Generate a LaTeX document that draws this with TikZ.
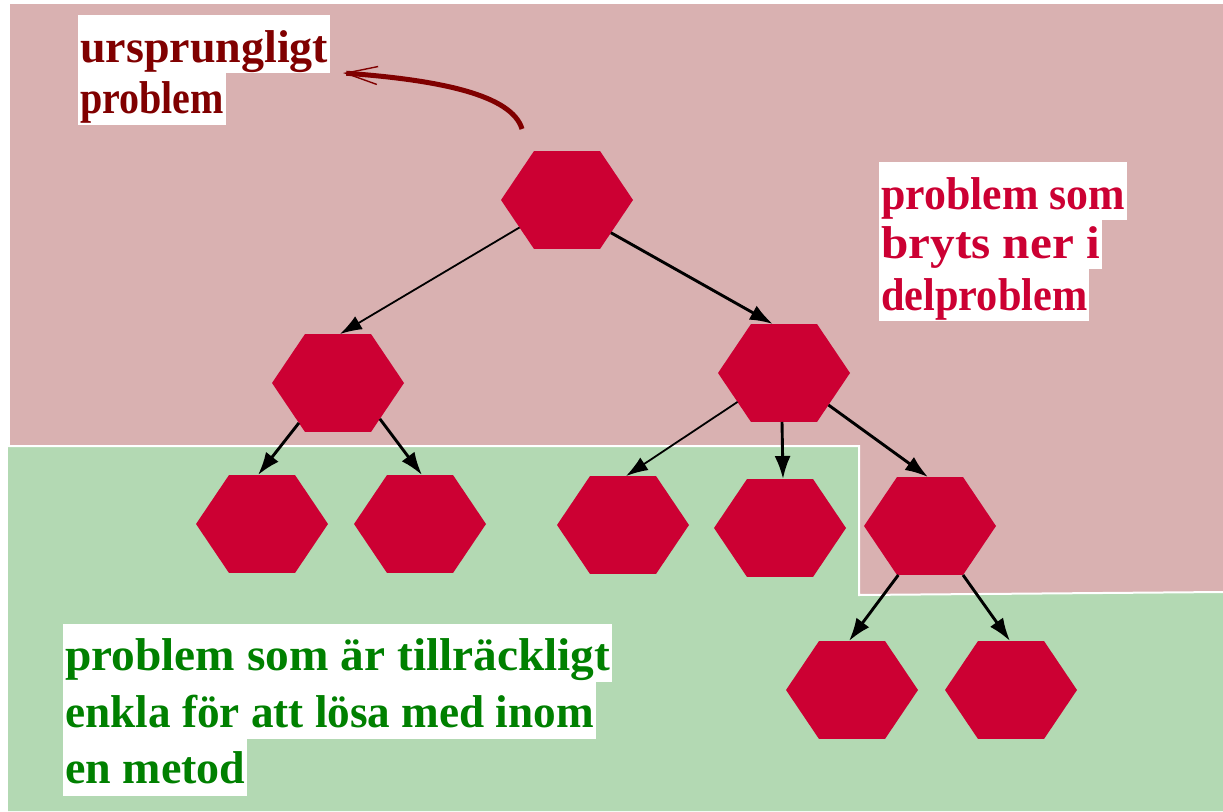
\documentclass[tikz,border=0pt]{standalone}
\usepackage{fontspec}
\usepackage{graphicx}
\setmainfont{Liberation Serif}
\usetikzlibrary{shapes.geometric,arrows.meta}
\definecolor{pinkbg}{HTML}{D9B1B1}
\definecolor{greenbg}{HTML}{B3D9B3}
\definecolor{hexred}{HTML}{CC0033}
\definecolor{darkred}{HTML}{800000}
\definecolor{darkgreen}{HTML}{008000}
\tikzset{
  hexnode/.style={regular polygon, regular polygon sides=6, minimum size=132pt,
    inner sep=0pt, outer sep=0pt, fill=hexred, draw=none, transform shape},
  lab/.style={fill=white, inner xsep=2pt, inner ysep=0pt, anchor=base west,
    font=\bfseries\fontsize{46pt}{50pt}\selectfont},
  arr/.style={line width=2.9pt, -{Latex[length=23pt,width=16pt]}},
  thinarr/.style={line width=1.8pt, -{Latex[length=22pt,width=15pt]}},
  curvy/.style={draw=darkred, line width=5pt,
    -{Straight Barb[length=32pt,width=18pt,line width=1.4pt]}}
}
\newcommand\hexat[3]{\begin{scope}[shift={(#2,#3)},yscale=0.857]\node[hexnode] (#1) at (0,0) {};\end{scope}}
\newcommand\sx[2]{\scalebox{#1}[1]{#2}}
\begin{document}
\begin{tikzpicture}[x=1pt,y=-1pt]
\useasboundingbox (0,0) rectangle (1223,811);
\fill[white] (0,0) rectangle (1223,811);
% regions
\fill[pinkbg] (10,4) -- (1223,4) -- (1223,592) -- (859,595) -- (859,446) -- (10,446) -- cycle;
\fill[greenbg] (8,446) -- (859,446) -- (859,595) -- (1223,592) -- (1223,811) -- (8,811) -- cycle;
\draw[white, line width=2pt] (8,446) -- (859,446) -- (859,595) -- (1223,592);
% hexagons
\hexat{root}{567}{200}
\hexat{L1}{338}{383}
\hexat{R1}{784}{373}
\hexat{LL}{262}{524}
\hexat{LR}{420}{524}
\hexat{RL}{623}{525}
\hexat{RM}{780}{528}
\hexat{RR}{930}{526}
\hexat{RRL}{852}{690}
\hexat{RRR}{1011}{690}
% connectors
\draw[thinarr] (root.-146.7) -- (L1.88);
\draw[arr] (root.-41.8) -- (R1.101.6);
\draw[arr] (L1.-130.6) -- (LL.94);
\draw[arr] (L1.-45.6) -- (LR.88);
\draw[thinarr] (R1.-144.3) -- (RL.87);
\draw[arr] (R1.-92) -- (RM.87);
\draw[arr] (R1.-40.5) -- (RR.92);
\draw[arr] (RR.-119) -- (RRL.93);
\draw[arr] (RR.-60) -- (RRR.91);
% labels
\node[lab, text=darkred, text height=47pt, text depth=11pt] (u1) at (78,62) {ursprungligt};
\node[lab, text=darkred, text height=40pt, text depth=12pt] (u2) at (78,113) {\sx{0.87}{problem}};
\node[lab, text=hexred, text height=47pt, text depth=11pt] (r1) at (879,209) {\sx{0.953}{problem som}};
\node[lab, text=hexred, text height=38pt, text depth=11pt] (r2) at (879,258) {\sx{1.07}{bryts ner i}};
\node[lab, text=hexred, text height=41pt, text depth=11pt] (r3) at (879,310) {\sx{0.92}{delproblem}};
\node[lab, text=darkgreen, text height=46pt, text depth=12pt] (g1) at (63,670) {\sx{1.03}{problem som är tillräckligt}};
\node[lab, text=darkgreen, text height=45pt, text depth=12pt] (g2) at (63,727) {\sx{0.983}{enkla för att lösa med inom}};
\node[lab, text=darkgreen, text height=44pt, text depth=13pt] (g3) at (63,783) {en metod};
% curved pointer
\coordinate (cs) at (522,129);
\coordinate (ce) at (343,73);
\draw[curvy] (cs) .. controls (512,95) and (440,80) .. (ce);
\end{tikzpicture}
\end{document}
